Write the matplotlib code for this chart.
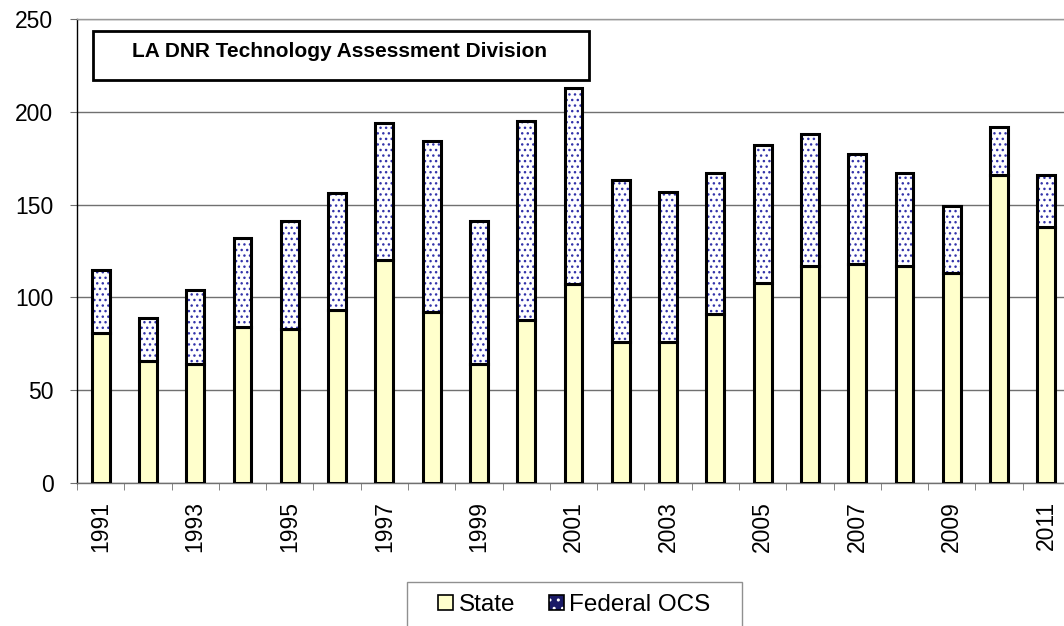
import matplotlib
matplotlib.use("Agg")
import numpy as np
import matplotlib.pyplot as plt
from matplotlib.patches import Patch, Rectangle
from matplotlib.legend_handler import HandlerTuple

years = list(range(1991, 2012))
state = [81, 66, 64, 84, 83, 93, 120, 92, 64, 88, 107,
         76, 76, 91, 108, 117, 118, 117, 113, 166, 138]
totals = [115, 89, 104, 132, 141, 156, 194, 184, 141, 195, 213,
          163, 157, 167, 182, 188, 177, 167, 149, 192, 166]
federal = [t - s for t, s in zip(totals, state)]

plt.rcParams["font.family"] = ["Liberation Sans", "DejaVu Sans"]
plt.rcParams["hatch.linewidth"] = 1.0

STATE_COLOR = "#FFFFCC"
DOT_COLOR = "#3333AA"
W, H = 1064, 626

fig = plt.figure(figsize=(W / 100, H / 100), dpi=100)
ax = fig.add_axes([77 / W, (H - 483) / H, 993 / W, 464 / H])

x = np.arange(len(years))
w = 0.38

ax.bar(x, state, width=w, color=STATE_COLOR, edgecolor="black", linewidth=2.2, zorder=3)
# dotted fill first, then a plain black outline on top
ax.bar(x, federal, bottom=state, width=w, color="white", edgecolor=DOT_COLOR,
       hatch="...", linewidth=0, zorder=3)
ax.bar(x, federal, bottom=state, width=w, fill=False, edgecolor="black",
       linewidth=2.2, zorder=4)

ax.set_xlim(-0.5, len(years) - 0.5)
ax.set_ylim(0, 250)
ax.set_yticks(range(0, 251, 50))
ax.yaxis.grid(True, color="#707070", linewidth=1)
ax.set_axisbelow(True)

ax.set_xticks(x[::2])
ax.set_xticklabels([str(y) for y in years[::2]], rotation=90)
ax.set_xticks(np.arange(-0.5, len(years), 1), minor=True)
ax.tick_params(axis="x", which="major", length=0, pad=13, labelsize=16.5)
ax.tick_params(axis="x", which="minor", length=5, direction="out", color="#707070")
ax.tick_params(axis="y", length=5, pad=12, labelsize=16.5, color="#707070")

ax.spines["top"].set_color("#999999")
ax.spines["bottom"].set_color("#707070")
ax.spines["left"].set_color("black")
for side in ["left", "top", "bottom"]:
    ax.spines[side].set_linewidth(1)
ax.spines["right"].set_visible(False)

# label box inside the plot area
fig.add_artist(Rectangle((93 / W, 1 - 80 / H), 496 / W, 49 / H,
                         transform=fig.transFigure, fill=False,
                         edgecolor="black", linewidth=2))
fig.text(340 / W, 1 - 57 / H, "LA DNR Technology Assessment Division",
         ha="center", va="baseline", fontsize=15, fontweight="bold")

# legend frame drawn separately so it can run off the bottom edge
fig.add_artist(Rectangle((407 / W, -0.05), 335 / W, 0.05 + 1 - 582 / H,
                         transform=fig.transFigure, fill=False,
                         edgecolor="#909090", linewidth=1))
state_h = Patch(facecolor=STATE_COLOR, edgecolor="black", linewidth=1.2)
fed_h = (Patch(facecolor="#1a1a66", edgecolor="white", hatch="..", linewidth=0),
         Patch(fill=False, edgecolor="black", linewidth=1.2))
fig.legend([state_h, fed_h], ["State", "Federal OCS"],
           handler_map={tuple: HandlerTuple(ndivide=1)},
           loc="center left", bbox_to_anchor=(438 / W, 1 - 605 / H),
           ncol=2, fontsize=17.5, frameon=False,
           handlelength=0.62, handleheight=0.62,
           handletextpad=0.22, columnspacing=1.4, borderpad=0,
           borderaxespad=0)

fig.savefig("out.png", dpi=100)
